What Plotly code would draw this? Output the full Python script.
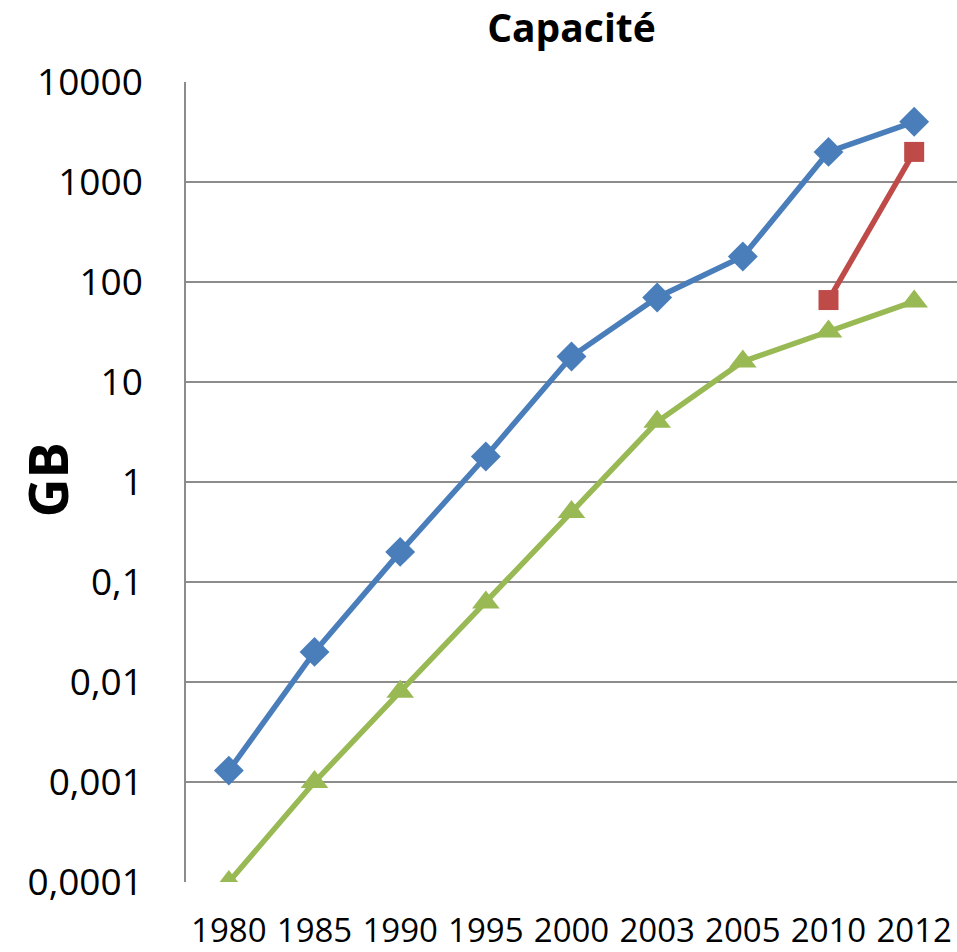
import plotly.graph_objects as go

years = ["1980", "1985", "1990", "1995", "2000", "2003", "2005", "2010", "2012"]
series_blue = [0.0013, 0.02, 0.2, 1.8, 18, 70, 180, 2000, 4000]
series_red = [None, None, None, None, None, None, None, 66, 2000]
series_green = [0.0001, 0.001, 0.008, 0.0625, 0.5, 4, 16, 32, 64]

tick_vals = [0.0001, 0.001, 0.01, 0.1, 1, 10, 100, 1000, 10000]
tick_text = ["0,0001", "0,001", "0,01", "0,1", "1", "10", "100", "1000", "10000"]

FONT = "'Open Sans', Lato, sans-serif"

fig = go.Figure()
fig.add_trace(go.Scatter(x=years, y=series_blue, mode="lines+markers",
                         line=dict(color="#4A7EBB", width=5.5),
                         marker=dict(symbol="diamond", size=23, color="#4A7EBB"),
                         showlegend=False))
fig.add_trace(go.Scatter(x=years, y=series_red, mode="lines+markers",
                         line=dict(color="#BE4B48", width=5.5),
                         marker=dict(symbol="square", size=20, color="#BE4B48"),
                         showlegend=False))
fig.add_trace(go.Scatter(x=years, y=series_green, mode="lines+markers",
                         line=dict(color="#98B954", width=5.5),
                         marker=dict(symbol="triangle-up", size=24, color="#98B954"),
                         showlegend=False))

PLOT_L, PLOT_T, PLOT_B = 186, 82, 893
fig.update_layout(
    width=957, height=952,
    margin=dict(l=PLOT_L, r=0, t=PLOT_T, b=952 - PLOT_B),
    paper_bgcolor="white", plot_bgcolor="white",
    font=dict(family=FONT, color="black", size=34),
    title=dict(text="<b>Capacité</b>", x=0.5, xref="paper", xanchor="center",
               y=1 - 28 / 952, yanchor="middle",
               font=dict(size=39, family=FONT, color="black")),
    xaxis=dict(type="category", range=[-0.5, 8.5], showgrid=False,
               showline=False, ticks="", tickfont=dict(size=33), ticklabelstandoff=26),
    yaxis=dict(type="log", range=[-4, 4], tickvals=tick_vals, ticktext=tick_text,
               showgrid=True, gridcolor="#8C8C8C", gridwidth=1.5,
               showline=True, linecolor="#8C8C8C", linewidth=1.5,
               zeroline=False, ticks="", tickfont=dict(size=37), ticklabelstandoff=34),
    annotations=[dict(text="<b>GB</b>", textangle=-90, xref="paper", yref="paper",
                      x=(47 - PLOT_L) / (957 - PLOT_L), y=(PLOT_B - 486) / (PLOT_B - PLOT_T),
                      xanchor="center", yanchor="middle",
                      showarrow=False, font=dict(size=54, family=FONT, color="black"))],
)

fig.write_html("out.html", config={"displayModeBar": False},
               post_script="document.body.style.margin='0';document.body.style.overflow='hidden';")
